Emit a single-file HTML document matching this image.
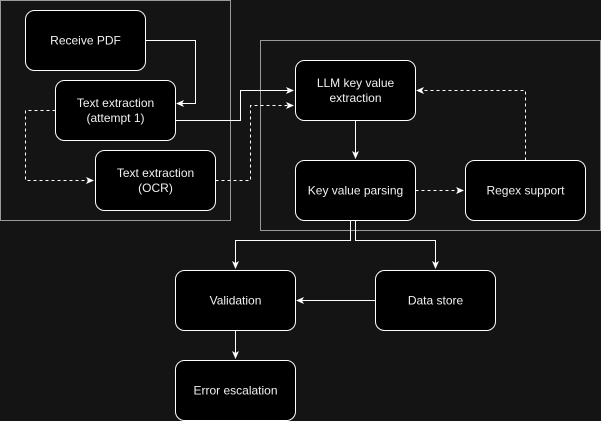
<!DOCTYPE html>
<html><head><style>
html,body{margin:0;padding:0;background:#141414;}
svg{display:block;}
text{font-family:"Liberation Sans",sans-serif;font-size:12px;fill:#f0f0f0;text-anchor:middle;}
</style></head><body>
<svg width="601" height="421" viewBox="0 0 601 421" xmlns="http://www.w3.org/2000/svg">
<defs>
<marker id="a" markerWidth="8" markerHeight="8" refX="7" refY="4" orient="auto" markerUnits="userSpaceOnUse">
<path d="M0,0.5 L8,4 L0,7.5 L2,4 Z" fill="#fff"/></marker>
</defs>
<rect x="0.5" y="0.5" width="230" height="220" fill="#141414" stroke="#999"/>
<rect x="260.5" y="40.5" width="340" height="190" fill="#141414" stroke="#999"/>
<g fill="#000" stroke="#fff" stroke-width="1">
<rect x="25.5" y="10.5" width="120" height="60" rx="9"/>
<rect x="55.5" y="80.5" width="120" height="60" rx="9"/>
<rect x="95.5" y="150.5" width="120" height="60" rx="9"/>
<rect x="295.5" y="60.5" width="120" height="60" rx="9"/>
<rect x="295.5" y="160.5" width="120" height="60" rx="9"/>
<rect x="465.5" y="160.5" width="120" height="60" rx="9"/>
<rect x="175.5" y="270.5" width="120" height="60" rx="9"/>
<rect x="375.5" y="270.5" width="120" height="60" rx="9"/>
<rect x="175.5" y="360.5" width="120" height="60" rx="9"/>
</g>
<g fill="none" stroke="#fff" stroke-width="1">
<path d="M145.5,40.5 H195.5 V103.5 H177" marker-end="url(#a)"/>
<path d="M175.5,120.5 H240.5 V90.5 H293" marker-end="url(#a)"/>
<path d="M215.5,180.5 H250.5 V105.5 H293" stroke-dasharray="3,3" marker-end="url(#a)"/>
<path d="M55.5,110.5 H25.5 V180.5 H93" stroke-dasharray="3,3" marker-end="url(#a)"/>
<path d="M355.5,120.5 V158" marker-end="url(#a)"/>
<path d="M415.5,190.5 H463" stroke-dasharray="3,3" marker-end="url(#a)"/>
<path d="M525.5,160.5 V90.5 H417" stroke-dasharray="3,3" marker-end="url(#a)"/>
<path d="M350.5,220.5 V240.5 H235.5 V268" marker-end="url(#a)"/>
<path d="M355.5,220.5 V240.5 H435.5 V268" marker-end="url(#a)"/>
<path d="M375.5,300.5 H297" marker-end="url(#a)"/>
<path d="M235.5,330.5 V358" marker-end="url(#a)"/>
</g>
<text x="85.5" y="44.5">Receive PDF</text>
<text x="115.5" y="107">Text extraction</text>
<text x="115.5" y="122">(attempt 1)</text>
<text x="155.5" y="177">Text extraction</text>
<text x="155.5" y="192">(OCR)</text>
<text x="355.5" y="87">LLM key value</text>
<text x="355.5" y="102">extraction</text>
<text x="355.5" y="194.5">Key value parsing</text>
<text x="525.5" y="194.5">Regex support</text>
<text x="235.5" y="304.5">Validation</text>
<text x="435.5" y="304.5">Data store</text>
<text x="235.5" y="394.5">Error escalation</text>
</svg>
</body></html>
